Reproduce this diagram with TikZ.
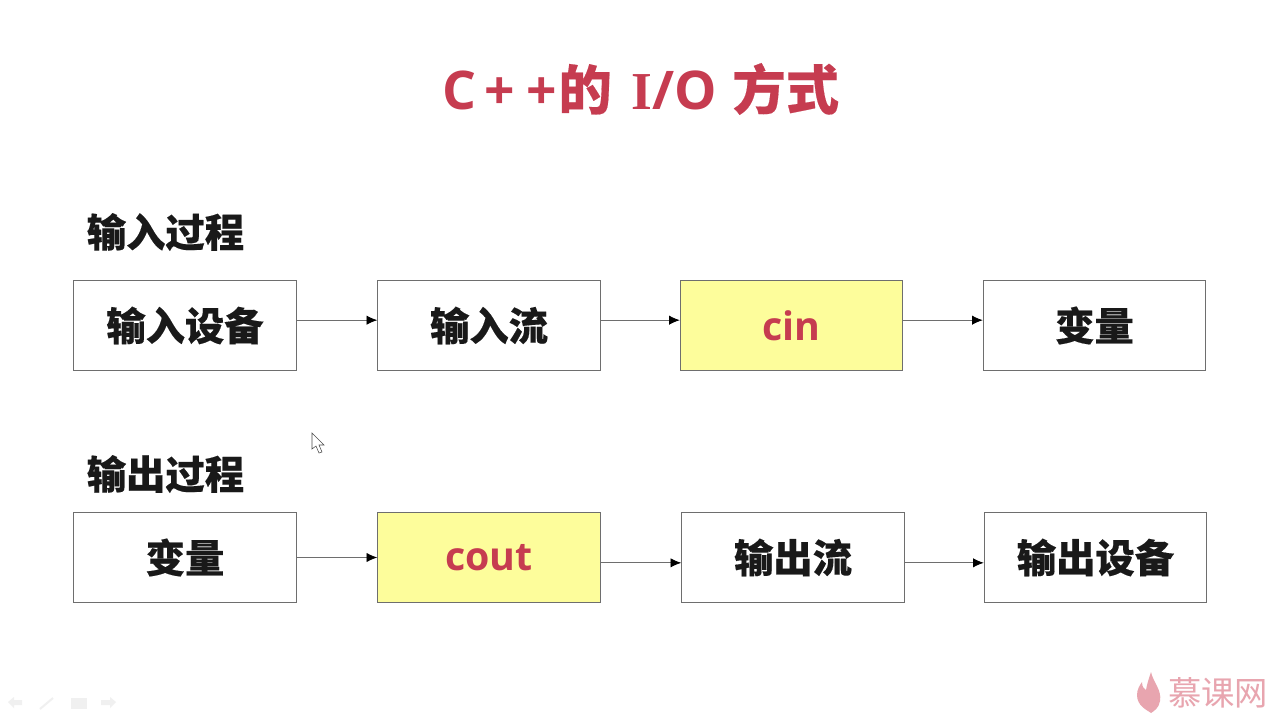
\documentclass[tikz,border=0pt]{standalone}
\usepackage{fontspec}
\setmainfont{Open Sans}
\newfontfamily\cjkbold[FakeBold=0.3]{Noto Sans CJK SC Bold}
\newfontfamily\cjkreg{Noto Sans CJK SC}
\newfontfamily\slabfont{Liberation Serif}
\definecolor{titlered}{RGB}{198,60,80}
\definecolor{boxyellow}{RGB}{253,253,155}
\definecolor{boxline}{RGB}{110,110,110}
\definecolor{logopink}{RGB}{232,165,175}
\usetikzlibrary{arrows.meta}
\tikzset{
    ioBox/.style={draw=boxline,line width=0.7pt,fill=white,minimum width=167pt,minimum height=68pt,inner sep=0pt},
    keyBox/.style={ioBox,fill=boxyellow,text=titlered},
    boxText/.style={font=\fontsize{29.5pt}{32pt}\selectfont\bfseries\cjkbold,text=black!90},
    keyText/.style={font=\fontsize{29.5pt}{32pt}\selectfont\bfseries,text=titlered},
    flow/.style={draw=boxline,line width=0.6pt,-{Latex[black,length=8pt,width=7pt]}},
}
\begin{document}
\begin{tikzpicture}[x=0.75pt,y=-0.75pt]
    \useasboundingbox (0,0) rectangle (1280,720);
    \fill[white] (0,0) rectangle (1280,720);
    % title
    \node[text=titlered,inner sep=0pt] (title) at (641,89)
        {\fontsize{40pt}{44pt}\selectfont\bfseries C\kern6pt+\kern8.5pt+\kern1pt{\cjkbold 的}\kern15pt{\slabfont I}/O\kern11.5pt{\cjkbold 方式}};
    % input row
    \node[boxText,anchor=west,inner sep=0pt] (inLabel) at (86.5,232) {输入过程};
    \node[ioBox,boxText] (inDev) at (185,325.5) {输入设备};
    \node[ioBox,boxText] (inStream) at (489,325.5) {输入流};
    \node[keyBox,keyText] (cin) at (791.5,325.5) {cin};
    \node[ioBox,boxText] (inVar) at (1094.5,325.5) {变量};
    \draw[flow] ([yshift=4pt]inDev.east) -- ([yshift=4pt]inStream.west);
    \draw[flow] ([yshift=4pt]inStream.east) -- ([yshift=4pt]cin.west);
    \draw[flow] ([yshift=4pt]cin.east) -- ([yshift=4pt]inVar.west);
    % output row
    \node[boxText,anchor=west,inner sep=0pt] (outLabel) at (86.5,474) {输出过程};
    \node[ioBox,boxText] (outVar) at (185,557.5) {变量};
    \node[keyBox,keyText] (cout) at (489,557.5) {cout};
    \node[ioBox,boxText] (outStream) at (793,557.5) {输出流};
    \node[ioBox,boxText] (outDev) at (1095.5,557.5) {输出设备};
    \draw[flow] (outVar.east) -- (cout.west);
    \draw[flow] ([yshift=-4pt]cout.east) -- ([yshift=-4pt]outStream.west);
    \draw[flow] ([yshift=-4pt]outStream.east) -- ([yshift=-4pt]outDev.west);
    % mouse pointer
    \draw[black!70,fill=white,line width=0.4pt] (312,433) -- (312,449) -- (316,446) -- (319,453) -- (322,452) -- (319,445) -- (324,445) -- cycle;
    % logo
    \fill[logopink] (1151,672) .. controls (1153,682) and (1162,690) .. (1160,701) .. controls (1159,708) and (1154,711) .. (1151,713)
        .. controls (1147,710) and (1137,706) .. (1137,695) .. controls (1137,689) and (1140,685) .. (1142,682)
        .. controls (1142,687) and (1144,689) .. (1146,690) .. controls (1147,684) and (1149,678) .. (1151,672) -- cycle;
    \node[text=logopink,inner sep=0pt,anchor=west] (logo) at (1168,693) {\fontsize{25pt}{28pt}\selectfont\cjkreg 慕课网};
    % slide controls
    \fill[black!6] (8,702) -- (14,697) -- (14,700) -- (22,700) -- (22,705) -- (14,705) -- (14,708) -- cycle;
    \draw[black!6,line width=1.5pt] (40,709) -- (53,698);
    \fill[black!6] (71,698) rectangle (87,709);
    \fill[black!6] (116,702) -- (110,697) -- (110,700) -- (101,700) -- (101,705) -- (110,705) -- (110,708) -- cycle;
\end{tikzpicture}
\end{document}
